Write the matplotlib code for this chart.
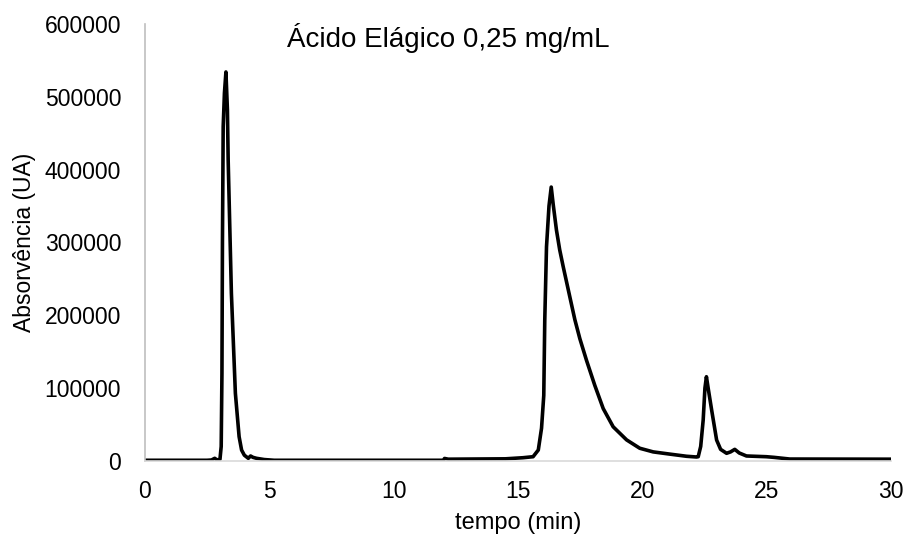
import matplotlib
matplotlib.use("Agg")
import matplotlib.pyplot as plt

# Chromatogram trace: retention time (min) and absorbance (UA)
tempo = [0.0, 2.5, 2.68, 2.81, 2.9, 3.02, 3.07, 3.1, 3.12, 3.15, 3.2, 3.26, 3.32,
         3.35, 3.48, 3.64, 3.79, 3.89, 4.0, 4.16, 4.25, 4.35, 4.49, 4.8, 5.2,
         8.0, 11.9, 12.0, 12.05, 12.2, 14.5, 15.2, 15.61, 15.82, 15.95, 16.04,
         16.08, 16.15, 16.25, 16.34, 16.42, 16.55, 16.68, 16.82, 17.09, 17.29,
         17.49, 17.76, 18.09, 18.43, 18.83, 19.37, 19.9, 20.44, 21.1, 21.78,
         22.18, 22.25, 22.35, 22.45, 22.52, 22.58, 22.65, 22.79, 22.99, 23.15,
         23.39, 23.55, 23.72, 23.9, 24.19, 24.99, 25.3, 25.93, 30.0]
absorvancia = [1000, 1000, 1400, 3700, 1500, 2300, 20000, 120000, 300000, 459000,
               505000, 534000, 482000, 413000, 230000, 93000, 33400, 15000, 8000,
               3700, 6900, 5000, 3700, 2000, 1000, 1000, 1000, 1000, 3500, 2500,
               3000, 4500, 5900, 15100, 45000, 90000, 193000, 294000, 350000,
               376000, 352000, 317000, 290000, 267000, 225000, 194000, 168000,
               138000, 104000, 72000, 47000, 29000, 17500, 12500, 9500, 6500,
               5500, 5900, 20000, 56300, 100000, 115700, 100000, 70000, 28800,
               16000, 10600, 12500, 16000, 11000, 6900, 5900, 5000, 2700, 2500]

x_ticks = [0, 5, 10, 15, 20, 25, 30]
y_ticks = [0, 100000, 200000, 300000, 400000, 500000, 600000]

plt.rcParams['font.family'] = ['Liberation Sans', 'DejaVu Sans']

fig = plt.figure(figsize=(9.11, 5.43), dpi=100)
ax = fig.add_axes([0.159, 0.151, 0.819, 0.805])

ax.plot(tempo, absorvancia, color='black', linewidth=2.6,
        solid_joinstyle='round', solid_capstyle='round')

ax.set_xlim(0, 30)
ax.set_ylim(0, 600000)
ax.set_xticks(x_ticks)
ax.set_yticks(y_ticks)
ax.set_yticklabels([str(v) for v in y_ticks])

for side in ('top', 'right'):
    ax.spines[side].set_visible(False)
ax.spines['left'].set_color('#bfbfbf')
ax.spines['bottom'].set_color('#d9d9d9')
ax.spines['left'].set_linewidth(1.2)
ax.spines['bottom'].set_linewidth(1.2)

ax.tick_params(axis='both', length=0, labelsize=16.5, colors='black')
ax.tick_params(axis='x', pad=14)
ax.tick_params(axis='y', pad=17)

ax.set_xlabel('tempo (min)', fontsize=17, labelpad=6)
ax.set_ylabel('Absorvência (UA)', fontsize=16.5, labelpad=6)

ax.text(0.406, 0.968, 'Ácido Elágico 0,25 mg/mL', transform=ax.transAxes,
        ha='center', va='center', fontsize=20)

fig.savefig('out.png', dpi=100)
